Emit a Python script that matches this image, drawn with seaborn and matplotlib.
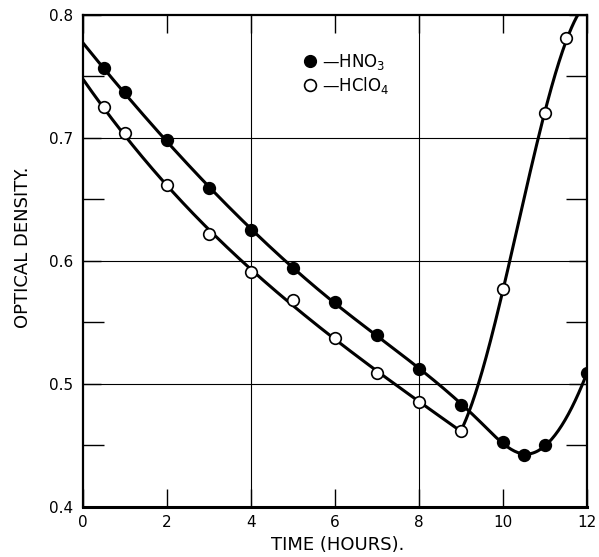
import numpy as np
import pandas as pd
import matplotlib
matplotlib.use("Agg")
import matplotlib.pyplot as plt
import seaborn as sns
from matplotlib.lines import Line2D

# Readings taken off the chart (optical density vs time in hours)
hours_hno3 = [0.5, 1, 2, 3, 4, 5, 6, 7, 8, 9, 10, 10.5, 11, 12]
od_hno3 = [0.757, 0.737, 0.698, 0.659, 0.625, 0.594, 0.567, 0.540, 0.512, 0.483, 0.453, 0.442, 0.450, 0.509]

hours_hclo4 = [0.5, 1, 2, 3, 4, 5, 6, 7, 8, 9, 10, 11, 11.5]
od_hclo4 = [0.725, 0.704, 0.662, 0.622, 0.591, 0.568, 0.537, 0.509, 0.485, 0.462, 0.577, 0.720, 0.781]

# where the hand-drawn curves meet the frame
hno3_start = (0, 0.776)
hclo4_start = (0, 0.746)
hclo4_end = (11.8, 0.800)
hclo4_kink = 9  # curve breaks sharply here

x_labels = [0, 2, 4, 6, 8, 10, 12]
y_labels = [0.4, 0.5, 0.6, 0.7, 0.8]
y_minor = [0.45, 0.55, 0.65, 0.75]
grid_hours = [4, 8]
grid_od = [0.5, 0.6, 0.7]


# least squares cubic spline (truncated power basis) - gives a smooth
# hand-drawn looking curve that runs close to the readings
def smooth(xs, ys, knots=(), n=300):
    xs = np.asarray(xs, float)
    ys = np.asarray(ys, float)

    def basis(x):
        cols = [np.ones_like(x), x, x ** 2, x ** 3]
        cols += [np.clip(x - k, 0, None) ** 3 for k in knots]
        return np.column_stack(cols)

    coef, *_ = np.linalg.lstsq(basis(xs), ys, rcond=None)
    xx = np.linspace(xs[0], xs[-1], n)
    return xx, basis(xx) @ coef


sns.set_style("white")
plt.rcParams['font.family'] = ['DejaVu Sans']
plt.rcParams['text.color'] = 'black'
plt.rcParams['axes.labelcolor'] = 'black'
plt.rcParams['xtick.color'] = 'black'
plt.rcParams['ytick.color'] = 'black'

fig = plt.figure(figsize=(5.99, 5.57), dpi=100)
ax = fig.add_axes([0.1386, 0.0898, 0.8414, 0.8834])

# grid lines only at a few positions, like the original paper
for g in grid_hours:
    ax.axvline(g, color='black', lw=0.8, zorder=1)
for g in grid_od:
    ax.axhline(g, color='black', lw=0.8, zorder=1)

# HNO3 curve
cx, cy = smooth([hno3_start[0]] + hours_hno3, [hno3_start[1]] + od_hno3, knots=(6, 9.5, 10.5))
sns.lineplot(x=cx, y=cy, color='black', lw=2.2, ax=ax, zorder=2)

# HClO4 curve, two pieces with a sharp turn at 9 h
k = hours_hclo4.index(hclo4_kink)
cx, cy = smooth([hclo4_start[0]] + hours_hclo4[:k + 1], [hclo4_start[1]] + od_hclo4[:k + 1], knots=(4.5,))
sns.lineplot(x=cx, y=cy, color='black', lw=2.2, ax=ax, zorder=2)
cx, cy = smooth(hours_hclo4[k:] + [hclo4_end[0]], od_hclo4[k:] + [hclo4_end[1]])
sns.lineplot(x=cx, y=cy, color='black', lw=2.2, ax=ax, zorder=2)

df1 = pd.DataFrame({'t': hours_hno3, 'od': od_hno3})
df2 = pd.DataFrame({'t': hours_hclo4, 'od': od_hclo4})
sns.scatterplot(data=df1, x='t', y='od', s=70, color='black', edgecolor='black', linewidth=1.2, ax=ax, zorder=3)
sns.scatterplot(data=df2, x='t', y='od', s=70, color='white', edgecolor='black', linewidth=1.2, ax=ax, zorder=3)

ax.set_xlim(0, 12)
ax.set_ylim(0.4, 0.8)
ax.set_xticks(x_labels)
ax.set_xticklabels([str(v) for v in x_labels])
ax.set_yticks(y_labels)
ax.set_yticklabels([f"{v:.1f}" for v in y_labels])
ax.set_yticks(y_minor, minor=True)

ax.tick_params(axis='x', which='major', direction='in', length=13, width=1,
               top=True, bottom=True, labelsize=11, pad=6)
ax.tick_params(axis='y', which='major', direction='in', length=13, width=1,
               left=True, right=True, labelsize=11, pad=7)
ax.tick_params(axis='y', which='minor', direction='in', length=15, width=1,
               left=True, right=True)

for s in ax.spines.values():
    s.set_color('black')
    s.set_linewidth(1.6)
ax.spines['bottom'].set_linewidth(2.2)

ax.set_xlabel("TIME (HOURS).", fontsize=13, va='center')
ax.set_ylabel("OPTICAL DENSITY.", fontsize=13, va='center')
ax.xaxis.set_label_coords(0.506, -0.077)
ax.yaxis.set_label_coords(-0.119, 0.528)

handles = [
    Line2D([], [], marker='o', ls='none', color='black', markersize=8.5),
    Line2D([], [], marker='o', ls='none', markerfacecolor='white', markeredgecolor='black',
           markeredgewidth=1.2, markersize=8.5),
]
ax.legend(handles, ["—HNO$_3$", "—HClO$_4$"], loc='upper left', bbox_to_anchor=(0.438, 0.925),
          frameon=False, handlelength=0.8, handletextpad=0.3, labelspacing=0.2, fontsize=12,
          borderaxespad=0, borderpad=0)

fig.savefig("out.png", dpi=100)
